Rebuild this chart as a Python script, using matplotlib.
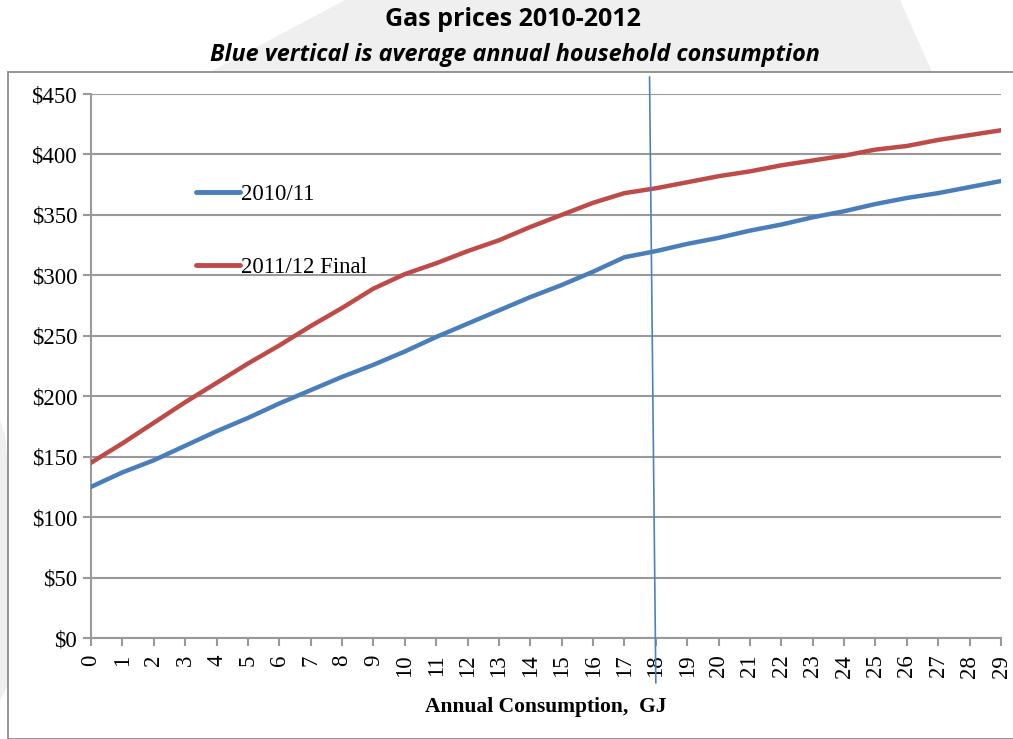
import numpy as np
import matplotlib
matplotlib.use('Agg')
import matplotlib.pyplot as plt
from matplotlib.patches import Polygon, Rectangle

# data
consumption = np.arange(0, 30)
price_2010 = [125, 137, 147, 159, 171, 182, 194, 205, 216, 226,
              237, 249, 260, 271, 282, 292, 303, 315, 320, 326,
              331, 337, 342, 348, 353, 359, 364, 368, 373, 378]
price_2011 = [145, 161, 178, 195, 211, 227, 242, 258, 273, 289,
              301, 310, 320, 329, 340, 350, 360, 368, 372, 377,
              382, 386, 391, 395, 399, 404, 407, 412, 416, 420]
series_names = ['2010/11', '2011/12 Final']
# hand drawn "average consumption" line (slightly slanted in the original)
avg_x = [17.8, 18.0]
avg_y = [464, -37]
y_ticks = np.arange(0, 451, 50)

W, H = 1013, 739


def px(x, y):
    return (x / W, 1 - y / H)


fig = plt.figure(figsize=(W / 100, H / 100), dpi=100)
fig.patch.set_facecolor('white')

# faint watermark shapes behind the chart
wm = '#efefef'
fig.add_artist(Polygon([px(345, 0), px(900, 0), px(932, 72), px(210, 72)],
                       closed=True, transform=fig.transFigure,
                       facecolor=wm, edgecolor='none', zorder=-3))
fig.add_artist(Polygon([px(0, 420), px(5, 435), px(8, 465), px(8, 685), px(0, 700)],
                       closed=True, transform=fig.transFigure,
                       facecolor=wm, edgecolor='none', zorder=-3))
# chart area border
x0, y0 = px(8, 739)
x1, y1 = px(1020, 72)
fig.add_artist(Rectangle((x0, y0), x1 - x0, y1 - y0, transform=fig.transFigure,
                         facecolor='white', edgecolor='#8c8c8c', lw=1.3, zorder=-2))

l, b = px(91, 638)
r, t = px(1001, 94)
ax = fig.add_axes([l, b, r - l, t - b])
ax.set_facecolor('white')

grid_col = '#999999'
for v in y_ticks:
    ax.axhline(v, color=grid_col, lw=1.5, zorder=1)

blue = '#4a7ebb'
red = '#be4b48'
ax.plot(consumption, price_2010, color=blue, lw=3.2, solid_capstyle='round',
        label=series_names[0], zorder=3)
ax.plot(consumption, price_2011, color=red, lw=3.2, solid_capstyle='round',
        label=series_names[1], zorder=3)

ax.plot(avg_x, avg_y, color='#4f81bd', lw=1.2, clip_on=False, zorder=4)

ax.set_xlim(0, 29)
ax.set_ylim(0, 450)
ax.set_yticks(y_ticks)
ax.set_yticklabels(['$%d' % v for v in y_ticks])
ax.set_xticks(consumption)
ax.set_xticklabels([str(v) for v in consumption], rotation=90)

serif = 'Liberation Serif'
for lab in ax.get_yticklabels():
    lab.set_fontfamily(serif)
    lab.set_fontsize(16.5)
for lab in ax.get_xticklabels():
    lab.set_fontfamily(serif)
    lab.set_fontsize(16.5)

for s in ['top', 'right']:
    ax.spines[s].set_visible(False)
ax.spines['left'].set_color(grid_col)
ax.spines['left'].set_linewidth(1.5)
ax.spines['bottom'].set_color(grid_col)
ax.spines['bottom'].set_linewidth(1.5)
ax.tick_params(axis='both', color=grid_col, width=1.5, length=6, pad=4)
ax.tick_params(axis='x', pad=6)

ax.set_xlabel('Annual Consumption,  GJ', fontfamily=serif, fontweight='bold',
              fontsize=15.5, labelpad=14)

leg = ax.legend(loc='upper left', bbox_to_anchor=(0.103, 0.855), frameon=False,
                prop={'family': serif, 'size': 16.5}, handlelength=1.9,
                handletextpad=0.05, labelspacing=2.25, borderpad=0)
for line in leg.get_lines():
    line.set_linewidth(3.5)

fig.text(*px(513, 20), 'Gas prices 2010-2012', ha='center', va='center',
         fontfamily='Open Sans', fontweight='bold', fontsize=18)
fig.text(*px(515, 55), 'Blue vertical is average annual household consumption',
         ha='center', va='center', fontfamily='Open Sans', fontweight='bold',
         fontstyle='italic', fontsize=16.8)

fig.savefig('out.png', dpi=100)
